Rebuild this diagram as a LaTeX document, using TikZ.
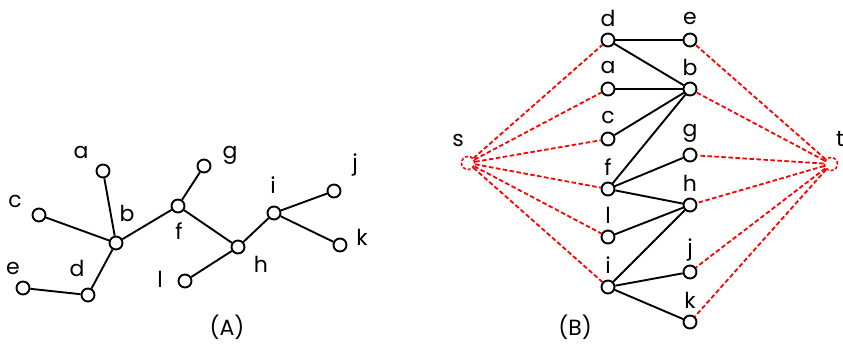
\documentclass[tikz,border=0pt]{standalone}
\usepackage{fontspec}
\setmainfont{Poppins}
\begin{document}
\begin{tikzpicture}[x=1pt,y=-1pt,
  vtx/.style={circle,draw=black,line width=1.9pt,fill=white,minimum size=13pt,inner sep=0pt},
  svtx/.style={circle,draw=red,dash pattern=on 3pt off 2pt,line width=1.6pt,fill=white,minimum size=13pt,inner sep=0pt},
  edge/.style={line width=1.9pt,black},
  redge/.style={line width=1.8pt,red,dash pattern=on 4.5pt off 2.5pt},
  lab/.style={font=\fontsize{22}{22}\selectfont,inner sep=0pt}]
\useasboundingbox (0,0) rectangle (843,349);
% ---------- (A) ----------
\node[vtx] (Aa) at (103,171) {};
\node[vtx] (Ac) at (39,215) {};
\node[vtx] (Ae) at (23,288) {};
\node[vtx] (Ad) at (88,295) {};
\node[vtx] (Ab) at (116,243) {};
\node[vtx] (Af) at (178,206) {};
\node[vtx] (Ag) at (204,166) {};
\node[vtx] (Ah) at (238,247) {};
\node[vtx] (Al) at (185,281) {};
\node[vtx] (Ai) at (274,213) {};
\node[vtx] (Aj) at (334,191) {};
\node[vtx] (Ak) at (340,245) {};
\draw[edge] (Aa) -- (Ab);
\draw[edge] (Ac) -- (Ab);
\draw[edge] (Ad) -- (Ab);
\draw[edge] (Ae) -- (Ad);
\draw[edge] (Ab) -- (Af);
\draw[edge] (Af) -- (Ag);
\draw[edge] (Af) -- (Ah);
\draw[edge] (Al) -- (Ah);
\draw[edge] (Ah) -- (Ai);
\draw[edge] (Ai) -- (Aj);
\draw[edge] (Ai) -- (Ak);
\node[lab] (LAa) at (81,152) {a};
\node[lab] (LAc) at (15,201) {c};
\node[lab] (LAe) at (13,268) {e};
\node[lab] (LAd) at (77,268) {d};
\node[lab] (LAb) at (127,213) {b};
\node[lab] (LAf) at (179,231) {f};
\node[lab] (LAg) at (230,155) {g};
\node[lab] (LAh) at (261,264) {h};
\node[lab] (LAl) at (160,279) {l};
\node[lab] (LAi) at (273,185) {i};
\node[lab] (LAj) at (355,165) {j};
\node[lab] (LAk) at (362,237) {k};
\node[lab] (LA) at (227,327) {(A)};
% ---------- (B) ----------
\node[vtx] (Bd) at (608,40) {};
\node[vtx] (Be) at (690,40) {};
\node[vtx] (Ba) at (608,89) {};
\node[vtx] (Bb) at (690,89) {};
\node[vtx] (Bc) at (608,139) {};
\node[vtx] (Bg) at (690,155) {};
\node[vtx] (Bf) at (608,189) {};
\node[vtx] (Bh) at (690,205) {};
\node[vtx] (Bl) at (608,237) {};
\node[vtx] (Bj) at (690,272) {};
\node[vtx] (Bi) at (608,287) {};
\node[vtx] (Bk) at (690,322) {};
\node[svtx] (Bs) at (468,163) {};
\node[svtx] (Bt) at (831,164) {};
\foreach \n in {d,a,c,f,l,i}{\draw[redge] (Bs) -- (B\n);}
\foreach \n in {e,b,g,h,j,k}{\draw[redge] (Bt) -- (B\n);}
\draw[edge] (Bd) -- (Be);
\draw[edge] (Bd) -- (Bb);
\draw[edge] (Ba) -- (Bb);
\draw[edge] (Bc) -- (Bb);
\draw[edge] (Bf) -- (Bb);
\draw[edge] (Bf) -- (Bg);
\draw[edge] (Bf) -- (Bh);
\draw[edge] (Bl) -- (Bh);
\draw[edge] (Bi) -- (Bh);
\draw[edge] (Bi) -- (Bj);
\draw[edge] (Bi) -- (Bk);
\foreach \n/\t in {d/d,e/e,a/a,b/b,c/c,g/g,f/f,h/h,l/l,j/j,i/i,k/k}{
  \node[lab] (LB\n) at ([yshift=22pt]B\n.center) {\t};}
\node[lab] (LBs) at (458,140) {s};
\node[lab] (LBt) at (840,139) {t};
\node[lab] (LB) at (575,327) {(B)};
\end{tikzpicture}
\end{document}
